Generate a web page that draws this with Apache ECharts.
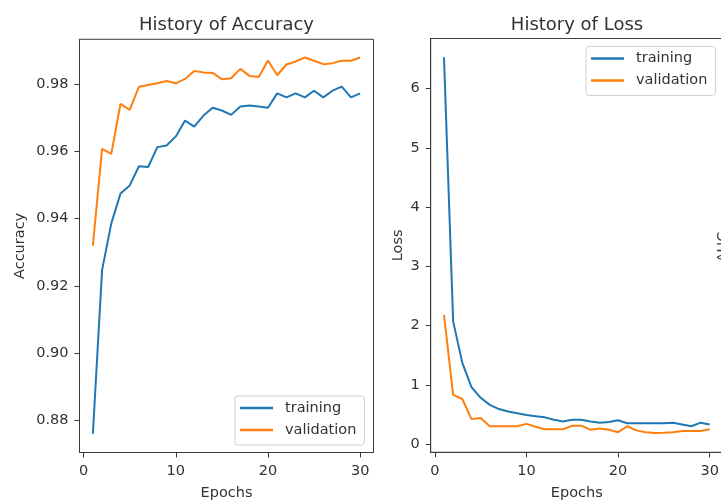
<!DOCTYPE html>
<html>
<head>
<meta charset="utf-8">
<script src="https://cdn.jsdelivr.net/npm/echarts@6/dist/echarts.min.js"></script>
<style>
html,body{margin:0;padding:0;background:#fff;}
#chart{width:721px;height:502px;}
</style>
</head>
<body>
<div id="chart"></div>
<script>
const epochs = [1,2,3,4,5,6,7,8,9,10,11,12,13,14,15,16,17,18,19,20,21,22,23,24,25,26,27,28,29,30];
const accTraining = [0.876,0.9247,0.9386,0.9475,0.9499,0.9556,0.9554,0.9613,0.9618,0.9645,0.9692,0.9674,0.9707,0.9730,0.9722,0.9709,0.9734,0.9737,0.9734,0.9730,0.9773,0.9761,0.9773,0.9761,0.9781,0.9761,0.9781,0.9793,0.9761,0.9773];
const accValidation = [0.932,0.9608,0.9593,0.9742,0.9724,0.9793,0.9798,0.9803,0.9810,0.9803,0.9816,0.9840,0.9835,0.9834,0.9815,0.9818,0.9846,0.9825,0.9822,0.9871,0.9827,0.9859,0.9868,0.9880,0.9870,0.9860,0.9863,0.9870,0.9870,0.9880];
const lossTraining = [6.53,2.07,1.37,0.96,0.78,0.66,0.59,0.55,0.52,0.49,0.47,0.45,0.41,0.38,0.41,0.41,0.38,0.36,0.37,0.40,0.35,0.35,0.35,0.35,0.35,0.36,0.33,0.30,0.36,0.33];
const lossValidation = [2.18,0.83,0.76,0.42,0.44,0.30,0.30,0.30,0.30,0.34,0.29,0.25,0.25,0.25,0.31,0.31,0.24,0.26,0.24,0.20,0.30,0.23,0.20,0.185,0.19,0.20,0.22,0.22,0.22,0.25];
const xTicks = [0,10,20,30];
const accTicks = [0.88,0.90,0.92,0.94,0.96,0.98];
const lossTicks = [0,1,2,3,4,5,6];
const seriesNames = ['training','validation'];
const titles = ['History of Accuracy','History of Loss'];
const yNames = ['Accuracy','Loss'];
const xName = 'Epochs';
const nextYName = 'AUC';

const FONT = 'DejaVu Sans';
const TXT = '#333';
const AX = '#3a3a3a';
const BLUE = '#1f77b4';
const ORANGE = '#ff7f0e';

function pairs(vals){ return epochs.map((e,i)=>[e, vals[i]]); }

function xAxisCfg(gi){
  return {
    type:'value', gridIndex:gi, min:-0.45, max:31.45,
    name:xName, nameLocation:'middle', nameGap:33,
    nameTextStyle:{fontFamily:FONT,fontSize:14.5,color:TXT},
    axisLine:{show:true,onZero:false,lineStyle:{color:AX,width:1}},
    axisTick:{show:true,length:5,lineStyle:{color:AX},customValues:xTicks},
    axisLabel:{fontFamily:FONT,fontSize:14.5,color:TXT,margin:11,customValues:xTicks,showMinLabel:true,showMaxLabel:true},
    splitLine:{show:false}
  };
}
function yAxisCfg(gi,min,max,ticks,name,gap,fmt){
  return {
    type:'value', gridIndex:gi, min:min, max:max,
    name:name, nameLocation:'middle', nameRotate:90, nameGap:gap,
    nameTextStyle:{fontFamily:FONT,fontSize:14.5,color:TXT},
    axisLine:{show:true,onZero:false,lineStyle:{color:AX,width:1}},
    axisTick:{show:true,length:5,lineStyle:{color:AX},customValues:ticks},
    axisLabel:{fontFamily:FONT,fontSize:14.5,color:TXT,margin:11,customValues:ticks,formatter:fmt},
    splitLine:{show:false}
  };
}
function line(name,gi,vals,color){
  return {
    type:'line', name:name, xAxisIndex:gi, yAxisIndex:gi,
    data:pairs(vals), symbol:'none', smooth:false, animation:false,
    lineStyle:{color:color,width:2}, itemStyle:{color:color}
  };
}
function legendCfg(left,top){
  return {
    left:left, top:top, orient:'vertical', data:seriesNames,
    icon:'rect', itemWidth:33, itemHeight:2.5, itemGap:6,
    padding:[4,8,7,5], borderColor:'#d0d0d0', borderWidth:1, borderRadius:3,
    backgroundColor:'rgba(255,255,255,0.8)',
    textStyle:{fontFamily:FONT,fontSize:14.5,color:TXT,lineHeight:16,padding:[0,0,0,7]},
    selectedMode:false
  };
}

const chart = echarts.init(document.getElementById('chart'), null, {renderer:'canvas'});
chart.setOption({
  backgroundColor:'#fff',
  animation:false,
  title:[
    {text:titles[0], left:226.5, top:16, textAlign:'center', padding:0,
     textStyle:{fontFamily:FONT,fontSize:18,fontWeight:'normal',color:TXT}},
    {text:titles[1], left:577, top:16, textAlign:'center', padding:0,
     textStyle:{fontFamily:FONT,fontSize:18,fontWeight:'normal',color:TXT}}
  ],
  grid:[
    {left:79.5, top:39.3, width:294, height:413.2, show:true, borderColor:AX, borderWidth:1, containLabel:false, outerBoundsMode:'none'},
    {left:430.7, top:38.5, width:292.3, height:413.8, show:true, borderColor:AX, borderWidth:1, containLabel:false, outerBoundsMode:'none'}
  ],
  xAxis:[xAxisCfg(0), xAxisCfg(1)],
  yAxis:[
    yAxisCfg(0,0.8704,0.9934,accTicks,yNames[0],52,v=>v.toFixed(2)),
    yAxisCfg(1,-0.14,6.845,lossTicks,yNames[1],25,v=>String(Math.round(v)))
  ],
  legend:[legendCfg(235,396), legendCfg(586,46.5)],
  series:[
    line(seriesNames[0],0,accTraining,BLUE),
    line(seriesNames[1],0,accValidation,ORANGE),
    line(seriesNames[0],1,lossTraining,BLUE),
    line(seriesNames[1],1,lossValidation,ORANGE)
  ],
  graphic:[
    {type:'text', x:723, y:247, rotation:Math.PI/2,
     style:{text:nextYName, fontFamily:FONT, fontSize:14.5, fill:TXT, align:'center', verticalAlign:'middle'}}
  ]
});
</script>
</body>
</html>
